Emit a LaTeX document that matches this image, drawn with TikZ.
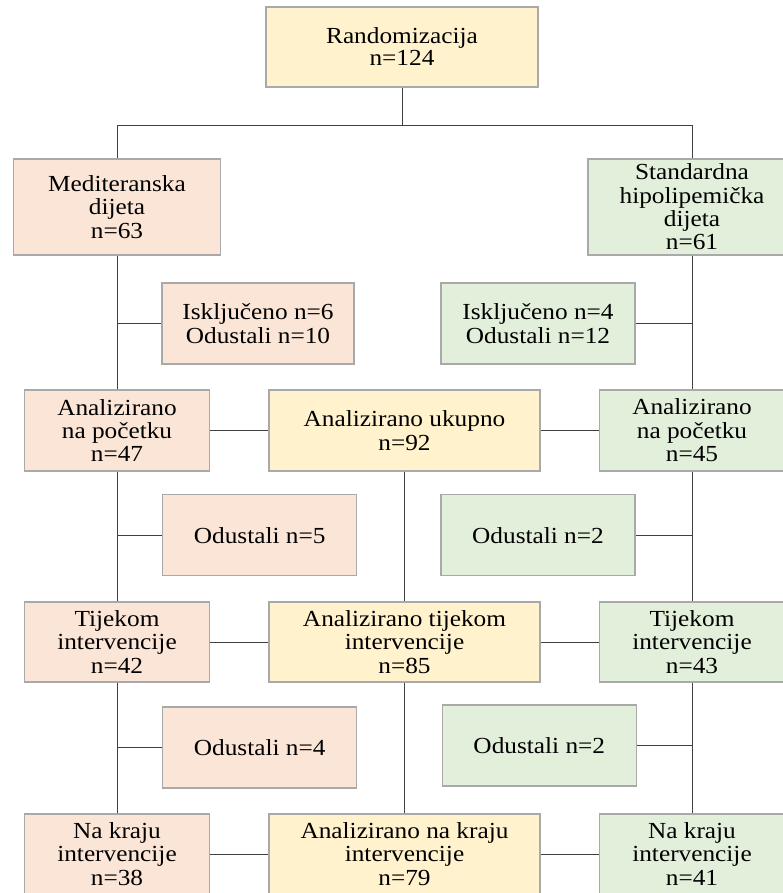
\documentclass[tikz,border=0pt]{standalone}
\usepackage{fontspec}
\setmainfont{Liberation Serif}[FakeStretch=1.1]
\usepackage{xcolor}
\usepackage{tikz}
\usetikzlibrary{positioning,calc}

\definecolor{medfill}{HTML}{FBE5D6}
\definecolor{stdfill}{HTML}{E2EFDA}
\definecolor{totfill}{HTML}{FFF2CC}
\definecolor{boxline}{HTML}{A9A9A9}
\definecolor{linkline}{HTML}{404040}

\begin{document}
\begin{tikzpicture}[x=1pt,y=-1pt,
	box/.style={draw=boxline,line width=1.4pt,align=center,inner sep=0pt,
		font=\fontsize{23}{23.4}\selectfont},
	medbox/.style={box,fill=medfill},
	stdbox/.style={box,fill=stdfill},
	totbox/.style={box,fill=totfill},
	link/.style={draw=linkline,line width=0.9pt}]
		\useasboundingbox (0,0) rectangle (782,893);
		% vrh
		\node[totbox,minimum width=272,minimum height=80,font=\fontsize{23}{22}\selectfont] (rand) at (402,47) {Randomizacija\\n=124};
		\node[medbox,minimum width=207,minimum height=96] (med) at (117,207) {Mediteranska\\dijeta\\n=63};
		\node[stdbox,minimum width=208,minimum height=96] (std) at (692,207) {Standardna\\hipolipemička\\dijeta\\n=61};
		\node[medbox,minimum width=192,minimum height=81] (iskL) at (258,323.5) {Isključeno n=6\\Odustali n=10};
		\node[stdbox,minimum width=194,minimum height=81] (iskR) at (538,323.5) {Isključeno n=4\\Odustali n=12};
		% na pocetku
		\node[medbox,minimum width=185,minimum height=81] (anL) at (117,430.5) {Analizirano\\na početku\\n=47};
		\node[totbox,minimum width=271,minimum height=81] (anC) at (404.5,430.5) {Analizirano ukupno\\n=92};
		\node[stdbox,minimum width=185,minimum height=81] (anR) at (692,430.5) {Analizirano\\na početku\\n=45};
		\node[medbox,minimum width=194,minimum height=81] (odL1) at (259.7,535.2) {Odustali n=5};
		\node[stdbox,minimum width=194,minimum height=81] (odR1) at (538,535.2) {Odustali n=2};
		% tijekom
		\node[medbox,minimum width=185,minimum height=80] (tiL) at (117,642) {Tijekom\\intervencije\\n=42};
		\node[totbox,minimum width=271,minimum height=80] (tiC) at (404.5,642) {Analizirano tijekom\\intervencije\\n=85};
		\node[stdbox,minimum width=185,minimum height=80] (tiR) at (692,642) {Tijekom\\intervencije\\n=43};
		\node[medbox,minimum width=194,minimum height=81] (odL2) at (259.7,747.3) {Odustali n=4};
		\node[stdbox,minimum width=194,minimum height=81] (odR2) at (539.3,745.5) {Odustali n=2};
		% na kraju
		\node[medbox,minimum width=185,minimum height=80] (krL) at (117,854) {Na kraju\\intervencije\\n=38};
		\node[totbox,minimum width=271,minimum height=80] (krC) at (404.5,854) {Analizirano na kraju\\intervencije\\n=79};
		\node[stdbox,minimum width=185,minimum height=80] (krR) at (692,854) {Na kraju\\intervencije\\n=41};

		\coordinate (split) at ($(rand.south)+(0,38)$);
		\draw[link] (rand.south) -- (split);
		\draw[link] (med.north) -- (med.north |- split) -- (std.north |- split) -- (std.north);

		\draw[link] (med.south) -- (anL.north);
		\draw[link] (anL.south) -- (tiL.north);
		\draw[link] (tiL.south) -- (krL.north);
		\draw[link] (std.south) -- (anR.north);
		\draw[link] (anR.south) -- (tiR.north);
		\draw[link] (tiR.south) -- (krR.north);
		\draw[link] (anC.south) -- (tiC.north);
		\draw[link] (tiC.south) -- (krC.north);

		\draw[link] (med.south |- iskL.west) -- (iskL.west);
		\draw[link] (std.south |- iskR.east) -- (iskR.east);
		\draw[link] (anL.south |- odL1.west) -- (odL1.west);
		\draw[link] (anR.south |- odR1.east) -- (odR1.east);
		\draw[link] (tiL.south |- odL2.west) -- (odL2.west);
		\draw[link] (tiR.south |- odR2.east) -- (odR2.east);

		\draw[link] (anL.east) -- (anC.west);
		\draw[link] (anC.east) -- (anR.west);
		\draw[link] (tiL.east) -- (tiC.west);
		\draw[link] (tiC.east) -- (tiR.west);
		\draw[link] (krL.east) -- (krC.west);
		\draw[link] (krC.east) -- (krR.west);
	\end{tikzpicture}
\end{document}
